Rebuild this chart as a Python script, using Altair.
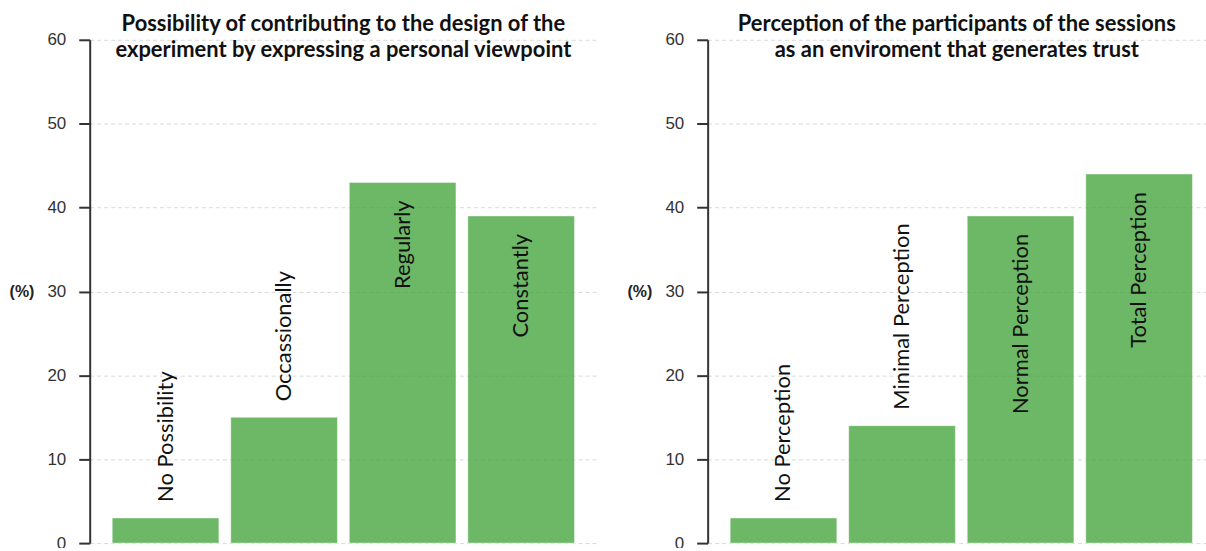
import altair as alt
import pandas as pd

# Survey answers, percentage of participants per category
left_categories = ["No Possibility", "Occassionally", "Regularly", "Constantly"]
left_values = [3, 15, 43, 39]
left_title = [
    "Possibility of contributing to the design of the",
    "experiment by expressing a personal viewpoint",
]

right_categories = ["No Perception", "Minimal Perception", "Normal Perception", "Total Perception"]
right_values = [3, 14, 39, 44]
right_title = [
    "Perception of the participants of the sessions",
    "as an enviroment that generates trust",
]

y_ticks = [0, 10, 20, 30, 40, 50, 60]

BAR_COLOR = "#3ca033"
LABEL_FONT = "Lato"

PLOT_W = 509   # width of the band range for the four bars
PLOT_H = 505


def panel(categories, values, title, view_width):
    df = pd.DataFrame({"category": categories, "value": values})

    x = alt.X(
        "category:N",
        sort=categories,
        axis=None,
        scale=alt.Scale(paddingInner=0.1, paddingOuter=0.19, range=[0, PLOT_W]),
    )
    y = alt.Y(
        "value:Q",
        scale=alt.Scale(domain=[0, 60], nice=False),
        axis=alt.Axis(
            values=y_ticks,
            tickSize=11,
            tickWidth=2,
            tickColor="#333333",
            domainColor="#333333",
            domainWidth=2,
            labelFont="Liberation Sans",
            labelFontSize=17,
            labelColor="#333333",
            labelPadding=13,
            grid=True,
            gridColor="#d9d9d9",
            gridDash=[4, 3],
            gridWidth=1,
            title="(%)",
            titleAngle=0,
            titleFont="Liberation Sans",
            titleFontSize=16,
            titleFontWeight="bold",
            titleColor="#222222",
            titleAlign="right",
            titleBaseline="middle",
            titleX=-56,
            titleY=253,
        ),
    )

    base = alt.Chart(df).encode(x=x, y=y)

    bars = base.mark_bar(
        fill=BAR_COLOR,
        fillOpacity=0.75,
        stroke="white",
        strokeWidth=1,
        strokeOpacity=0.45,
    )

    # short bars carry their label above, tall bars inside near the top
    above = base.transform_filter("datum.value < 30").mark_text(
        angle=270, align="left", baseline="middle", dx=16,
        font=LABEL_FONT, fontSize=22, color="#111111",
    ).encode(text="category:N")

    inside = base.transform_filter("datum.value >= 30").mark_text(
        angle=270, align="right", baseline="middle", dx=-18,
        font=LABEL_FONT, fontSize=22, color="#111111",
    ).encode(text="category:N")

    return alt.layer(bars, above, inside).properties(
        width=view_width,
        height=PLOT_H,
        title=alt.TitleParams(
            text=title,
            font=LABEL_FONT,
            fontSize=22,
            fontWeight="bold",
            color="#111111",
            anchor="middle",
            offset=-31,
            lineHeight=26,
        ),
    )


chart = (
    alt.hconcat(
        panel(left_categories, left_values, left_title, PLOT_W),
        panel(right_categories, right_values, right_title, 500),
        spacing=30,
    )
    .properties(padding={"left": 9, "top": 12, "right": 0, "bottom": -4}, background="white")
    .configure_view(stroke=None)
)

chart.save("out.html", embed_options={"renderer": "svg", "actions": False})
